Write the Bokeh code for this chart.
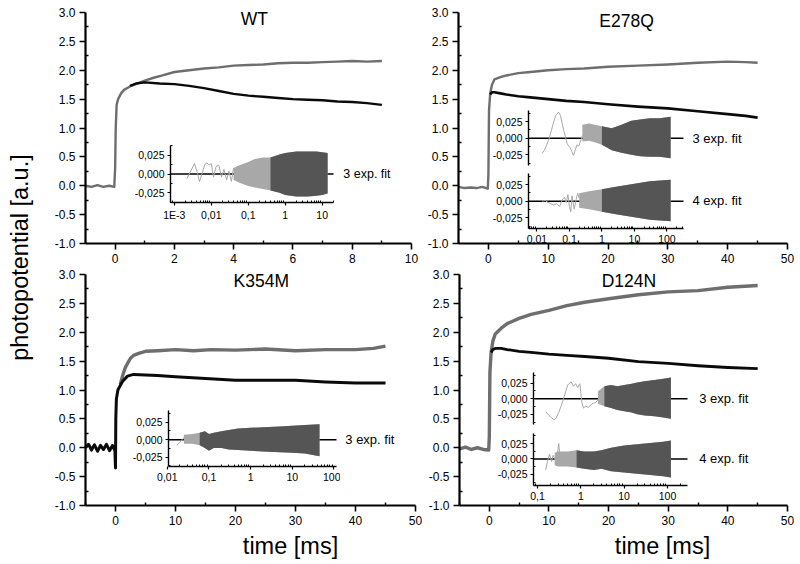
from bokeh.plotting import figure
from bokeh.models import (GridBox, Range1d, FixedTicker, PrintfTickFormatter, CustomJSTickFormatter,
                          LinearAxis, LogAxis)
from bokeh.core.properties import value
from bokeh.embed import file_html
from bokeh.resources import INLINE
import math

# ---------------- data ----------------
TITLES = ["WT", "E278Q", "K354M", "D124N"]
FIT3 = "3 exp. fit"
FIT4 = "4 exp. fit"
Y_LABEL = "photopotential [a.u.]"
X_LABEL = "time [ms]"

Y_TICKS = [-1.0, -0.5, 0.0, 0.5, 1.0, 1.5, 2.0, 2.5, 3.0]
X_TICKS_WT = [0, 2, 4, 6, 8, 10]
X_TICKS_LONG = [0, 10, 20, 30, 40, 50]
RES_TICKS = [-0.025, 0.0, 0.025]

WT_T_GRAY = [-1.0, -0.8, -0.6, -0.4, -0.2, -0.03, 0.0, 0.02, 0.05, 0.1, 0.2, 0.3, 0.5, 0.7, 1.0, 1.3,
             1.6, 2.0, 2.5, 3.0, 3.5, 4.0, 4.5, 5.0, 5.5, 6.0, 6.5, 7.0, 7.5, 8.0, 8.5, 9.0]
WT_V_GRAY = [0.00, -0.02, 0.01, -0.02, 0.00, -0.02, 0.30, 1.00, 1.40, 1.50, 1.60, 1.66, 1.72, 1.76, 1.82, 1.87,
             1.91, 1.97, 2.00, 2.03, 2.05, 2.08, 2.09, 2.10, 2.12, 2.13, 2.13, 2.14, 2.15, 2.16, 2.15, 2.16]
WT_T_BLACK = [0.5, 0.7, 1.0, 1.5, 2.0, 2.5, 3.0, 3.5, 4.0, 4.5, 5.0, 5.5, 6.0, 6.5, 7.0, 7.5, 8.0, 8.5, 9.0]
WT_V_BLACK = [1.73, 1.77, 1.79, 1.77, 1.76, 1.73, 1.69, 1.64, 1.59, 1.56, 1.54, 1.52, 1.50, 1.49, 1.48, 1.46,
              1.45, 1.43, 1.40]

E_T_GRAY = [-5, -4, -3, -2, -1, -0.1, 0.0, 0.1, 0.3, 0.6, 1, 2, 3, 5, 7, 10, 13, 16, 20, 25, 30, 35, 40, 43, 45]
E_V_GRAY = [-0.02, -0.04, -0.03, -0.04, -0.02, -0.05, 0.20, 1.30, 1.60, 1.75, 1.84, 1.88, 1.91, 1.95, 1.97, 2.00,
            2.02, 2.03, 2.06, 2.08, 2.10, 2.13, 2.15, 2.14, 2.13]
E_T_BLACK = [0.3, 0.6, 1, 2, 3, 5, 7, 10, 13, 16, 20, 25, 30, 35, 40, 43, 45]
E_V_BLACK = [1.58, 1.62, 1.62, 1.60, 1.58, 1.55, 1.53, 1.50, 1.47, 1.45, 1.41, 1.37, 1.34, 1.29, 1.24, 1.21, 1.18]

K_T_GRAY = [0.8, 1.2, 1.6, 2, 2.5, 3, 4, 5, 7, 10, 13, 16, 20, 25, 30, 35, 40, 43, 45]
K_V_GRAY = [1.10, 1.25, 1.38, 1.46, 1.55, 1.60, 1.64, 1.67, 1.68, 1.70, 1.68, 1.70, 1.69, 1.71, 1.68, 1.70, 1.70,
            1.72, 1.76]
K_T_BLACK = [-5, -4.5, -4, -3.5, -3, -2.5, -2, -1.5, -1, -0.5, -0.1, 0.0, 0.05, 0.15, 0.4, 0.8, 1.2, 2, 3, 5, 7,
             10, 15, 20, 25, 30, 35, 40, 45]
K_V_BLACK = [0.00, 0.06, -0.04, 0.05, -0.06, 0.04, -0.03, 0.06, -0.05, 0.04, -0.05, -0.35, 0.50, 0.85, 1.00, 1.08,
             1.15, 1.24, 1.27, 1.26, 1.25, 1.23, 1.20, 1.17, 1.17, 1.17, 1.14, 1.12, 1.12]

D_T_GRAY = [-5, -4, -3, -2, -1, -0.1, 0.0, 0.1, 0.3, 0.6, 1, 2, 3, 5, 7, 10, 13, 16, 20, 25, 30, 35, 40, 45]
D_V_GRAY = [-0.02, 0.01, -0.03, 0.00, -0.03, -0.04, 0.20, 1.30, 1.65, 1.85, 1.97, 2.07, 2.15, 2.24, 2.31, 2.38,
            2.46, 2.52, 2.58, 2.65, 2.70, 2.72, 2.78, 2.81]
D_T_BLACK = [0.3, 0.6, 1, 2, 3, 5, 7, 10, 13, 16, 20, 25, 30, 35, 40, 45]
D_V_BLACK = [1.65, 1.70, 1.72, 1.72, 1.70, 1.67, 1.65, 1.62, 1.60, 1.58, 1.55, 1.49, 1.46, 1.42, 1.39, 1.37]

WT_R3_LX = [0.0022, 0.0028, 0.0035, 0.0042, 0.0048, 0.0056, 0.0066, 0.0075, 0.0088, 0.0100, 0.0115, 0.0135,
            0.0160, 0.0190, 0.0220, 0.0260, 0.0300, 0.0350, 0.0400]
WT_R3_LY = [-0.006, 0.004, 0.014, 0.002, -0.010, 0.000, 0.012, 0.015, 0.012, 0.014, -0.004, 0.010, 0.012,
            -0.004, 0.006, -0.008, 0.004, -0.010, 0.008]
WT_R3_BX = [0.04, 0.06, 0.10, 0.15, 0.25, 0.40, 0.70, 1.0, 2.0, 4.0, 7.0, 10.0, 14.0]
WT_R3_BHI = [0.008, 0.012, 0.016, 0.020, 0.022, 0.022, 0.026, 0.028, 0.030, 0.030, 0.030, 0.029, 0.028]
WT_R3_BLO = [-0.008, -0.012, -0.016, -0.018, -0.020, -0.022, -0.025, -0.028, -0.030, -0.030, -0.029, -0.028, -0.026]

E_R3_LX = [0.0143, 0.017, 0.020, 0.024, 0.028, 0.033, 0.038, 0.046, 0.053, 0.060, 0.068, 0.077, 0.085, 0.095,
           0.105, 0.118, 0.134, 0.150, 0.170, 0.195, 0.220, 0.250]
E_R3_LY = [-0.023, -0.018, -0.010, 0.000, 0.012, 0.025, 0.034, 0.039, 0.034, 0.022, 0.010, 0.000, -0.008, -0.012,
           -0.014, -0.020, -0.026, -0.018, -0.010, -0.012, -0.004, 0.004]
E_R3_BX = [0.25, 0.4, 0.6, 1.0, 2.0, 4.0, 8.0, 15.0, 30.0, 60.0, 130.0]
E_R3_BHI = [0.020, 0.022, 0.020, 0.018, 0.015, 0.020, 0.026, 0.028, 0.030, 0.030, 0.032]
E_R3_BLO = [-0.005, -0.004, -0.006, -0.010, -0.018, -0.022, -0.025, -0.027, -0.028, -0.028, -0.030]

E_R4_LX = [0.0143, 0.018, 0.022, 0.027, 0.033, 0.040, 0.050, 0.060, 0.070, 0.080, 0.090, 0.100, 0.110, 0.120,
           0.140, 0.160, 0.180, 0.200]
E_R4_LY = [0.000, 0.001, -0.002, -0.004, -0.006, -0.004, -0.008, 0.002, 0.006, -0.002, 0.010, -0.008, -0.016,
           0.008, -0.012, 0.002, 0.012, 0.004]
E_R4_BX = [0.2, 0.4, 1.0, 3.0, 10.0, 30.0, 130.0]
E_R4_BHI = [0.012, 0.015, 0.018, 0.022, 0.026, 0.030, 0.032]
E_R4_BLO = [-0.010, -0.012, -0.016, -0.020, -0.024, -0.028, -0.030]

K_R3_LX = [0.017, 0.020, 0.024, 0.028, 0.033, 0.038, 0.045]
K_R3_LY = [-0.008, -0.004, 0.002, 0.006, 0.004, -0.002, 0.003]
K_R3_BX = [0.025, 0.04, 0.06, 0.08, 0.10, 0.13, 0.20, 0.30, 0.50, 1.0, 2.0, 5.0, 10.0, 20.0, 45.0]
K_R3_BHI = [0.007, 0.008, 0.010, 0.012, 0.008, 0.010, 0.012, 0.014, 0.016, 0.017, 0.018, 0.019, 0.020, 0.021, 0.022]
K_R3_BLO = [-0.006, -0.006, -0.008, -0.012, -0.016, -0.012, -0.012, -0.014, -0.015, -0.016, -0.017, -0.018,
            -0.019, -0.020, -0.024]

D_R3_LX = [0.155, 0.18, 0.21, 0.24, 0.27, 0.31, 0.35, 0.40, 0.45, 0.50, 0.55, 0.60, 0.68, 0.76, 0.85, 0.95,
           1.05, 1.15, 1.3, 1.5, 1.8, 2.2, 2.8]
D_R3_LY = [-0.021, -0.026, -0.030, -0.034, -0.031, -0.022, -0.012, 0.000, 0.012, 0.022, 0.025, 0.027, 0.020,
           0.024, 0.018, 0.024, -0.005, -0.015, -0.012, -0.014, -0.008, -0.006, 0.002]
D_R3_BX = [2.5, 3.5, 5, 7, 10, 15, 20, 30, 50, 80, 120]
D_R3_BHI = [0.012, 0.020, 0.022, 0.020, 0.022, 0.024, 0.026, 0.028, 0.030, 0.032, 0.034]
D_R3_BLO = [-0.008, -0.012, -0.015, -0.018, -0.020, -0.022, -0.025, -0.027, -0.028, -0.030, -0.032]

D_R4_LX = [0.155, 0.17, 0.19, 0.21, 0.23, 0.26, 0.29, 0.31, 0.34, 0.38]
D_R4_LY = [-0.018, -0.004, 0.008, -0.004, 0.006, -0.002, 0.010, 0.025, -0.006, 0.004]
D_R4_BX = [0.25, 0.3, 0.5, 0.8, 1.2, 2, 3, 5, 10, 20, 40, 80, 120]
D_R4_BHI = [0.010, 0.012, 0.012, 0.014, 0.012, 0.012, 0.014, 0.018, 0.022, 0.024, 0.026, 0.028, 0.030]
D_R4_BLO = [-0.010, -0.012, -0.012, -0.014, -0.016, -0.018, -0.016, -0.020, -0.022, -0.024, -0.026, -0.028, -0.030]

# ---------------- styling ----------------
FONT = "Liberation Sans"
GRAY = "#6e6e6e"
BLACK = "#0a0a0a"
RES_LIGHT = "#a8a8a8"
RES_DARK = "#555555"
VIS_H = 231
PAD_L, PAD_B, PAD_T, PAD_R = 10, 10, 3, 3
MBL, MBT = 40, 9


def clear(p):
    p.background_fill_alpha = 0
    p.border_fill_alpha = 0
    p.outline_line_color = None
    p.grid.visible = False


def label_axis(cls, ticks, fmt, size):
    # axis that only carries the tick labels (sits in the side panel)
    ax = cls(ticker=FixedTicker(ticks=ticks), axis_line_color=None, major_tick_line_color=None,
             minor_tick_line_color=None, major_tick_out=0, major_tick_in=0, minor_tick_out=0,
             minor_tick_in=0, major_label_standoff=0, major_label_text_font=FONT,
             major_label_text_font_size=size, major_label_text_color="black")
    if fmt is not None:
        ax.formatter = fmt
    return ax


def rule_axis(cls, ticks, minor, loc, bounds, lw, tw, mw, tout, tin):
    # axis that draws the line and tick marks, placed inside the padded frame
    return cls(ticker=FixedTicker(ticks=ticks, minor_ticks=minor), fixed_location=loc, bounds=bounds,
               axis_line_color="black", axis_line_width=lw, major_tick_line_color="black",
               major_tick_line_width=tw, minor_tick_line_color="black", minor_tick_line_width=mw,
               major_tick_out=tout, major_tick_in=0, minor_tick_out=0, minor_tick_in=tin,
               major_label_text_alpha=0, major_label_text_font_size="1px")


def main_panel(vl, vt, vw, xr, xticks, xminor):
    sx = (xr[1] - xr[0]) / vw
    sy = 4.0 / VIS_H
    fw, fh = vw + PAD_L + PAD_R, VIS_H + PAD_T + PAD_B
    p = figure(frame_width=fw, frame_height=fh,
               x_range=Range1d(xr[0] - PAD_L * sx, xr[1] + PAD_R * sx),
               y_range=Range1d(-1.0 - PAD_B * sy, 3.0 + PAD_T * sy),
               output_backend="svg", toolbar_location=None, x_axis_location=None, y_axis_location=None,
               min_border_left=MBL, min_border_top=MBT, min_border_right=4, min_border_bottom=4)
    clear(p)
    p.add_layout(label_axis(LinearAxis, xticks, None, "12px"), "below")
    p.add_layout(label_axis(LinearAxis, Y_TICKS, PrintfTickFormatter(format="%.1f"), "12px"), "left")
    p.add_layout(rule_axis(LinearAxis, xticks, xminor, -1.0, tuple(xr), 2.2, 1.6, 1.4, 6, 3), "below")
    p.add_layout(rule_axis(LinearAxis, Y_TICKS, [v + 0.25 for v in Y_TICKS[:-1]], xr[0], (-1.0, 3.0),
                           2.2, 1.6, 1.4, 6, 3), "left")
    pos = (vt - PAD_T - MBT, vl - PAD_L - MBL, MBT + fh + 20, MBL + fw + 4)
    return p, pos


def traces(p, tg, vg, tb, vb, wg, wb):
    p.line(tg, vg, line_color=GRAY, line_width=wg, line_join="round")
    p.line(tb, vb, line_color=BLACK, line_width=wb, line_join="round")


def put_text(p, x, y, txt, size, align="center"):
    p.text(x=[x], y=[y], text=[txt], text_font=value(FONT), text_font_size=size,
           text_align=align, text_baseline="middle", text_color="black")


def log_minor(lo, hi):
    out = []
    for e in range(-4, 4):
        for k in range(2, 10):
            v = k * 10.0 ** e
            if lo <= v <= hi:
                out.append(v)
    return out


Y_RES_FMT = CustomJSTickFormatter(code="return tick.toFixed(3).replace('.', ',');")
X_RES_FMT = CustomJSTickFormatter(code="""
if (Math.abs(tick - 0.001) < 1e-9) { return '1E-3'; }
return String(Number(tick.toPrecision(6))).replace('.', ',');
""")

IP_L, IP_B, IP_T, IP_R = 6, 6, 2, 2
IMBL, IMBT = 40, 3


def inset(vl, vt, vw, vh, xr, yr, xticks, show_x, lx, ly, bx, blo, bhi, dark_from):
    lsx = (math.log10(xr[1]) - math.log10(xr[0])) / vw
    sy = (yr[1] - yr[0]) / vh
    fw, fh = vw + IP_L + IP_R, vh + IP_T + IP_B
    p = figure(frame_width=fw, frame_height=fh, x_axis_type="log",
               x_range=Range1d(xr[0] * 10 ** (-IP_L * lsx), xr[1] * 10 ** (IP_R * lsx)),
               y_range=Range1d(yr[0] - IP_B * sy, yr[1] + IP_T * sy),
               output_backend="svg", toolbar_location=None, x_axis_location=None, y_axis_location=None,
               min_border_left=IMBL, min_border_top=IMBT, min_border_right=2, min_border_bottom=2)
    clear(p)
    if show_x:
        p.add_layout(label_axis(LogAxis, xticks, X_RES_FMT, "10.5px"), "below")
    p.add_layout(label_axis(LinearAxis, RES_TICKS, Y_RES_FMT, "10.5px"), "left")
    if show_x:
        p.add_layout(rule_axis(LogAxis, xticks, log_minor(*xr), yr[0], tuple(xr), 1.4, 1.2, 1.0, 3, 2), "below")
    p.add_layout(rule_axis(LinearAxis, RES_TICKS, [-0.0375, -0.0125, 0.0125, 0.0375], xr[0], tuple(yr),
                           1.4, 1.2, 1.0, 3, 2), "left")
    p.line(x=list(xr), y=[0.0, 0.0], line_color="black", line_width=1.5)
    p.line(lx, ly, line_color=RES_LIGHT, line_width=1)
    p.varea(x=bx, y1=blo, y2=bhi, fill_color=RES_LIGHT)
    p.varea(x=bx[dark_from:], y1=blo[dark_from:], y2=bhi[dark_from:], fill_color=RES_DARK)
    pos = (vt - IP_T - IMBT, vl - IP_L - IMBL, IMBT + fh + (16 if show_x else 2), IMBL + fw + 2)
    return p, pos


minor_wt = [-1, 1, 3, 5, 7, 9]
minor_long = [-5, 5, 15, 25, 35, 45]

p_wt, pos_wt_main = main_panel(85, 12, 326, (-1, 10), X_TICKS_WT, minor_wt)
traces(p_wt, WT_T_GRAY, WT_V_GRAY, WT_T_BLACK, WT_V_BLACK, 2.4, 2.4)
put_text(p_wt, 4.7, 2.88, TITLES[0], "17.5px")
put_text(p_wt, 7.70, 0.21, FIT3, "12.5px", "left")

p_e, pos_e_main = main_panel(458, 12, 329, (-5, 50), X_TICKS_LONG, minor_long)
traces(p_e, E_T_GRAY, E_V_GRAY, E_T_BLACK, E_V_BLACK, 2.4, 2.6)
put_text(p_e, 23.1, 2.86, TITLES[1], "17.5px")
put_text(p_e, 34.1, 0.82, FIT3, "13px", "left")
put_text(p_e, 34.1, -0.26, FIT4, "13px", "left")

p_k, pos_k_main = main_panel(85, 274, 330, (-5, 50), X_TICKS_LONG, minor_long)
traces(p_k, K_T_GRAY, K_V_GRAY, K_T_BLACK, K_V_BLACK, 3.4, 3.0)
put_text(p_k, 24.3, 2.88, TITLES[2], "17.5px")
put_text(p_k, 38.3, 0.14, FIT3, "13px", "left")

p_d, pos_d_main = main_panel(459, 274, 328, (-5, 50), X_TICKS_LONG, minor_long)
traces(p_d, D_T_GRAY, D_V_GRAY, D_T_BLACK, D_V_BLACK, 3.4, 2.8)
put_text(p_d, 23.4, 2.88, TITLES[3], "17.5px")
put_text(p_d, 35.2, 0.86, FIT3, "13px", "left")
put_text(p_d, 35.2, -0.19, FIT4, "13px", "left")

# y-axis title strip (left) and x-axis title strip (bottom)
p_lab = figure(frame_width=35, frame_height=564, x_range=Range1d(0, 35), y_range=Range1d(0, 564),
               output_backend="svg", toolbar_location=None, x_axis_location=None, y_axis_location=None,
               min_border=0)
clear(p_lab)
p_lab.text(x=[19], y=[316], text=[Y_LABEL], angle=math.pi / 2, text_font=value(FONT),
           text_font_size="23.5px", text_align="center", text_baseline="middle", text_color="black")

p_time = figure(frame_width=765, frame_height=36, x_range=Range1d(35, 800), y_range=Range1d(0, 36),
                output_backend="svg", toolbar_location=None, x_axis_location=None, y_axis_location=None,
                min_border=0)
clear(p_time)
p_time.text(x=[250, 622], y=[19, 19], text=[X_LABEL, X_LABEL], text_font=value(FONT),
            text_font_size="23.5px", text_align="center", text_baseline="middle", text_color="black")

in_wt, pos_wt = inset(170, 145, 163, 57, (7.9e-4, 20.2), (-0.038, 0.038), [0.001, 0.01, 0.1, 1, 10], True,
                      WT_R3_LX, WT_R3_LY, WT_R3_BX, WT_R3_BLO, WT_R3_BHI, 5)
in_e3, pos_e3 = inset(528, 110, 155, 55, (0.0055, 324), (-0.041, 0.0415), [0.01, 0.1, 1, 10, 100], False,
                      E_R3_LX, E_R3_LY, E_R3_BX, E_R3_BLO, E_R3_BHI, 3)
in_e4, pos_e4 = inset(528, 173, 155, 55, (0.0055, 324), (-0.041, 0.0415), [0.01, 0.1, 1, 10, 100], True,
                      E_R4_LX, E_R4_LY, E_R4_BX, E_R4_BLO, E_R4_BHI, 2)
in_k, pos_k = inset(168, 410, 168, 56, (0.0107, 115), (-0.0386, 0.0419), [0.01, 0.1, 1, 10, 100], True,
                    K_R3_LX, K_R3_LY, K_R3_BX, K_R3_BLO, K_R3_BHI, 2)
in_d3, pos_d3 = inset(533, 372, 154, 52, (0.081, 290), (-0.0413, 0.042), [0.1, 1, 10, 100], False,
                      D_R3_LX, D_R3_LY, D_R3_BX, D_R3_BLO, D_R3_BHI, 1)
in_d4, pos_d4 = inset(533, 433, 154, 52, (0.081, 290), (-0.043, 0.0413), [0.1, 1, 10, 100], True,
                      D_R4_LX, D_R4_LY, D_R4_BX, D_R4_BLO, D_R4_BHI, 3)

children = [(p_lab, 0, 0, 564, 35), (p_time, 528, 35, 36, 765)]
for fig, (r, c, rs, cs) in [(p_wt, pos_wt_main), (p_e, pos_e_main), (p_k, pos_k_main), (p_d, pos_d_main),
                            (in_wt, pos_wt), (in_e3, pos_e3), (in_e4, pos_e4), (in_k, pos_k),
                            (in_d3, pos_d3), (in_d4, pos_d4)]:
    children.append((fig, r, c, rs, cs))

grid = GridBox(children=children, rows="1px", cols="1px", spacing=0)

open("out.html", "w").write(file_html(grid, INLINE))
